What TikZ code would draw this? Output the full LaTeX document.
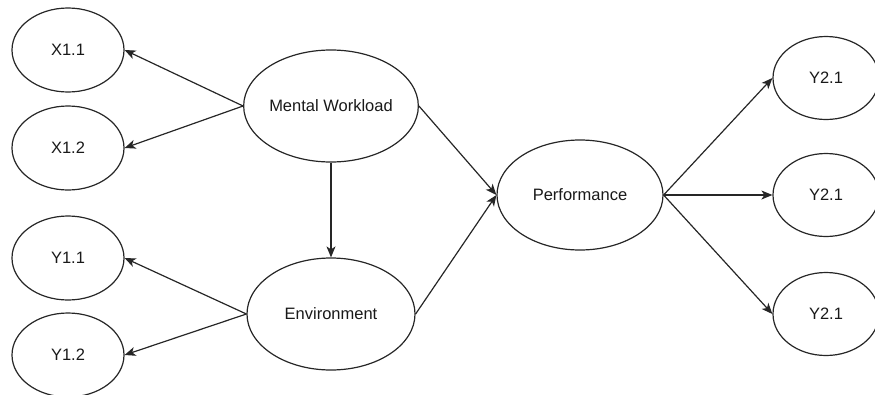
\documentclass[tikz,border=0pt]{standalone}
\usepackage{fontspec}
\setmainfont{Liberation Sans}
\usetikzlibrary{shapes.geometric,arrows.meta}
\begin{document}
\begin{tikzpicture}[x=1pt,y=-1pt,
  lat/.style={ellipse,draw=black!85,line width=1.2pt,inner sep=0pt,
    minimum width=168pt,minimum height=112pt,font=\fontsize{16.5}{18}\selectfont,text=black!90},
  ind/.style={ellipse,draw=black!85,line width=1.2pt,inner sep=0pt,
    minimum width=112pt,minimum height=84pt,font=\fontsize{16.5}{18}\selectfont,text=black!90},
  arr/.style={draw=black!85,line width=1.2pt,-{Stealth[length=11pt,width=9pt,inset=3pt]}}]
\useasboundingbox (0,0) rectangle (875,394);
\node[ind] (x11) at (68,50) {X1.1};
\node[ind] (x12) at (68,148) {X1.2};
\node[ind] (y11) at (68,258) {Y1.1};
\node[ind] (y12) at (68,355) {Y1.2};
\node[lat] (mw) at (331,106) {Mental Workload};
\node[lat] (env) at (331,314) {Environment};
\node[lat,minimum width=166pt,minimum height=110pt] (perf) at (580,195) {Performance};
\node[ind,minimum width=106pt,minimum height=83pt] (y21a) at (826,78) {Y2.1};
\node[ind,minimum width=106pt,minimum height=83pt] (y21b) at (826,195) {Y2.1};
\node[ind,minimum width=106pt,minimum height=83pt] (y21c) at (826,314) {Y2.1};
\draw[arr] (mw.west) -- (x11.east);
\draw[arr] (mw.west) -- (x12.east);
\draw[arr] (env.west) -- (y11.east);
\draw[arr] (env.west) -- (y12.east);
\draw[arr] (mw.south) -- (env.north);
\draw[arr] (mw.east) -- (perf.west);
\draw[arr] (env.east) -- (perf.west);
\draw[arr] (perf.east) -- (y21a.west);
\draw[arr] (perf.east) -- (y21b.west);
\draw[arr] (perf.east) -- (y21c.west);
\end{tikzpicture}
\end{document}
